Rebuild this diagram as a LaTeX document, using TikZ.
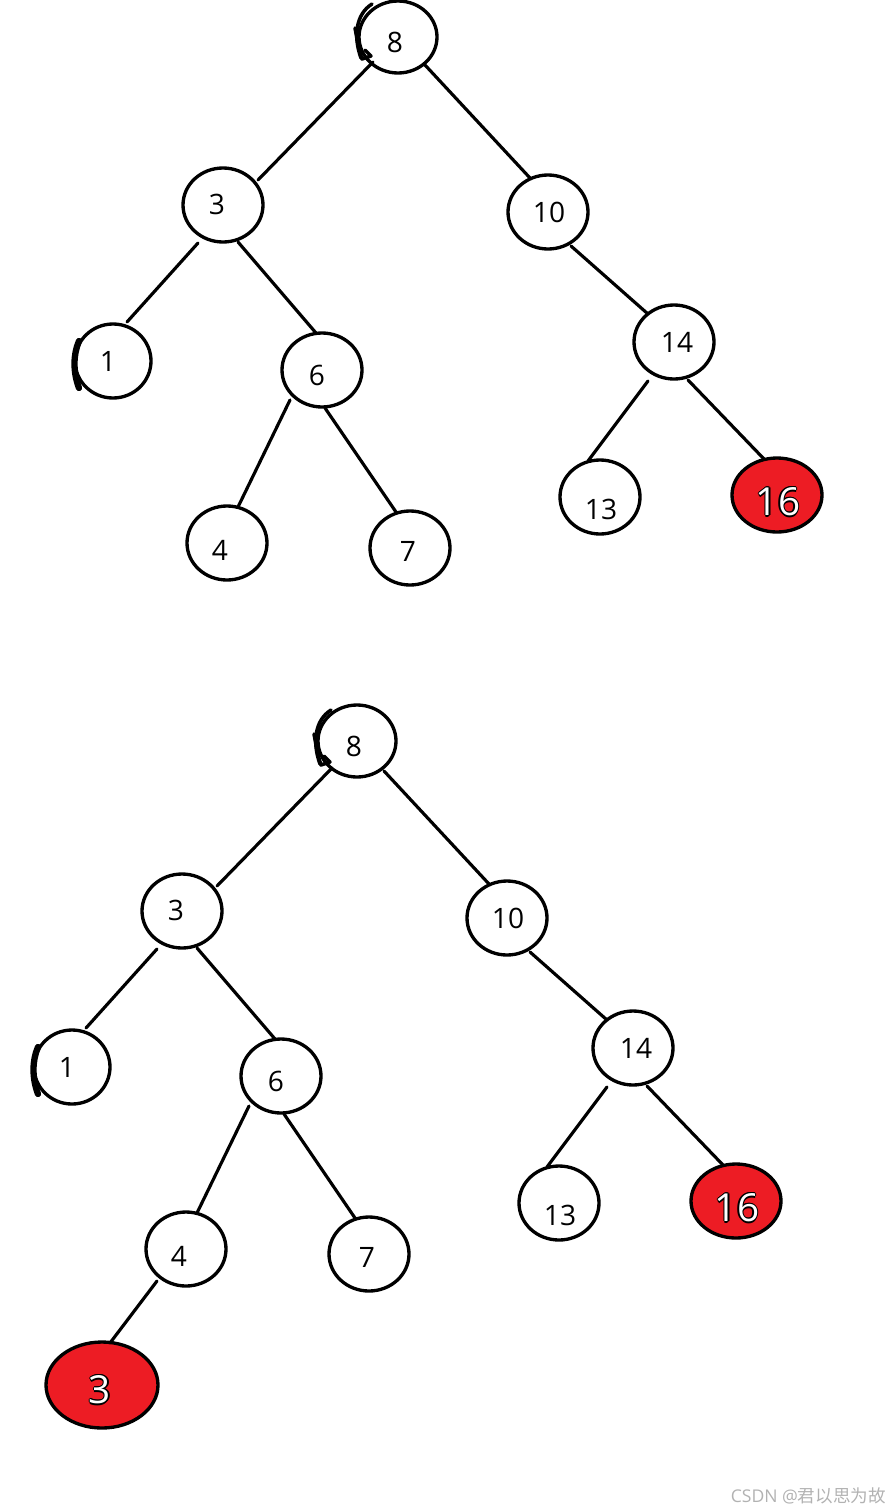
\documentclass[tikz,border=0pt]{standalone}
\usepackage{fontspec}
\setmainfont{Open Sans}
\newfontfamily\cjk{Noto Sans CJK SC}
\usetikzlibrary{shapes.geometric}
\definecolor{nodered}{RGB}{237,28,36}
\newcommand{\outlined}[2]{%
  \foreach \dx/\dy in {-1.2/0,1.2/0,0/-1.2,0/1.2,-0.9/-0.9,0.9/0.9,-0.9/0.9,0.9/-0.9}{%
    \node[text=black,font=\fontsize{22}{24}\selectfont] at ($(#1)+(\dx,\dy)$) {#2};}%
  \node[text=white,font=\fontsize{22}{24}\selectfont] at (#1) {#2};}
\usetikzlibrary{calc}
\begin{document}
\begin{tikzpicture}[x=0.02cm,y=-0.02cm,
  nd/.style={draw=black,line width=1.9pt,ellipse,minimum width=80*0.02cm,minimum height=74*0.02cm,inner sep=0pt,font=\fontsize{16}{18}\selectfont},
  rednd/.style={nd,fill=nodered},
  conn/.style={line width=1.8pt,line cap=round},
  handmark/.style={line width=2pt,line cap=round,line join=round}]
\useasboundingbox (0,0) rectangle (895,1511);
% ---------- top tree ----------
\node[nd,minimum width=78*0.02cm,minimum height=72*0.02cm] (a8) at (398,37) {};
\node at (395,42) {\fontsize{16}{18}\selectfont 8};
\node[nd] (a3) at (223,205) {};
\node at (217,204) {\fontsize{16}{18}\selectfont 3};
\node[nd] (a10) at (548,212) {};
\node at (549,212) {\fontsize{16}{18}\selectfont 10};
\node[nd,minimum width=76*0.02cm] (a1) at (113,361) {};
\node at (108,361) {\fontsize{16}{18}\selectfont 1};
\node[nd] (a6) at (322,370) {};
\node at (317,375) {\fontsize{16}{18}\selectfont 6};
\node[nd] (a14) at (674,342) {};
\node at (677,342) {\fontsize{16}{18}\selectfont 14};
\node[nd] (a4) at (227,543) {};
\node at (220,550) {\fontsize{16}{18}\selectfont 4};
\node[nd] (a7) at (410,548) {};
\node at (408,551) {\fontsize{16}{18}\selectfont 7};
\node[nd] (a13) at (600,497) {};
\node at (601,509) {\fontsize{16}{18}\selectfont 13};
\node[rednd,minimum width=90*0.02cm] (a16) at (777,495) {};
\outlined{778,502}{16}
\coordinate (e1a) at (373,62); \coordinate (e1b) at (258,180);
\coordinate (e2a) at (425,65); \coordinate (e2b) at (530,178);
\coordinate (e3a) at (198,243); \coordinate (e3b) at (127,322);
\coordinate (e4a) at (238,242); \coordinate (e4b) at (316,333);
\coordinate (e5a) at (571,246); \coordinate (e5b) at (648,314);
\coordinate (e6a) at (290,400); \coordinate (e6b) at (238,507);
\coordinate (e7a) at (325,408); \coordinate (e7b) at (396,512);
\coordinate (e8a) at (648,381); \coordinate (e8b) at (588,461);
\coordinate (e9a) at (688,380); \coordinate (e9b) at (764,459);
\foreach \i in {1,...,9} {\draw[conn] (e\i a) -- (e\i b);}
% hand marks
\draw[handmark] (372,4) .. controls (356,14) and (353,36) .. (361,58);
\draw[handmark] (355,28) -- (359,50);
\draw[handmark] (359,49) -- (362,59) -- (371,56) -- (365,50);
\draw[line width=3.6pt,line cap=round] (79,341) .. controls (73,355) and (73,372) .. (79,388);
% ---------- bottom tree ----------
\node[nd,minimum width=78*0.02cm,minimum height=72*0.02cm] (b8) at (357,741) {};
\node at (354,746) {\fontsize{16}{18}\selectfont 8};
\node[nd] (b3) at (182,911) {};
\node at (176,910) {\fontsize{16}{18}\selectfont 3};
\node[nd] (b10) at (507,918) {};
\node at (508,918) {\fontsize{16}{18}\selectfont 10};
\node[nd,minimum width=76*0.02cm] (b1) at (72,1067) {};
\node at (67,1067) {\fontsize{16}{18}\selectfont 1};
\node[nd] (b6) at (281,1076) {};
\node at (276,1081) {\fontsize{16}{18}\selectfont 6};
\node[nd] (b14) at (633,1048) {};
\node at (636,1048) {\fontsize{16}{18}\selectfont 14};
\node[nd] (b4) at (186,1249) {};
\node at (179,1256) {\fontsize{16}{18}\selectfont 4};
\node[nd] (b7) at (369,1254) {};
\node at (367,1257) {\fontsize{16}{18}\selectfont 7};
\node[nd] (b13) at (559,1203) {};
\node at (560,1215) {\fontsize{16}{18}\selectfont 13};
\node[rednd,minimum width=90*0.02cm] (b16) at (736,1201) {};
\outlined{737,1208}{16}
\node[rednd,minimum width=112*0.02cm,minimum height=86*0.02cm] (b3r) at (102,1385) {};
\outlined{100,1390}{3}
\coordinate (f1a) at (332,768); \coordinate (f1b) at (217,886);
\coordinate (f2a) at (384,771); \coordinate (f2b) at (489,884);
\coordinate (f3a) at (157,949); \coordinate (f3b) at (86,1028);
\coordinate (f4a) at (197,948); \coordinate (f4b) at (275,1039);
\coordinate (f5a) at (530,952); \coordinate (f5b) at (607,1020);
\coordinate (f6a) at (249,1106); \coordinate (f6b) at (197,1213);
\coordinate (f7a) at (284,1114); \coordinate (f7b) at (355,1218);
\coordinate (f8a) at (607,1087); \coordinate (f8b) at (547,1167);
\coordinate (f9a) at (647,1086); \coordinate (f9b) at (723,1165);
\coordinate (f10a) at (157,1281); \coordinate (f10b) at (110,1343);
\foreach \i in {1,...,10} {\draw[conn] (f\i a) -- (f\i b);}
\draw[handmark] (331,710) .. controls (315,720) and (312,742) .. (320,764);
\draw[handmark] (314,734) -- (318,756);
\draw[handmark] (318,755) -- (321,765) -- (330,762) -- (324,756);
\draw[line width=3.6pt,line cap=round] (38,1047) .. controls (32,1061) and (32,1078) .. (38,1094);
% watermark
\node[anchor=east,text=black!30,font=\fontsize{10}{12}\selectfont] (wm) at (892,1496) {CSDN @{\cjk 君以思为故}};
\end{tikzpicture}
\end{document}
